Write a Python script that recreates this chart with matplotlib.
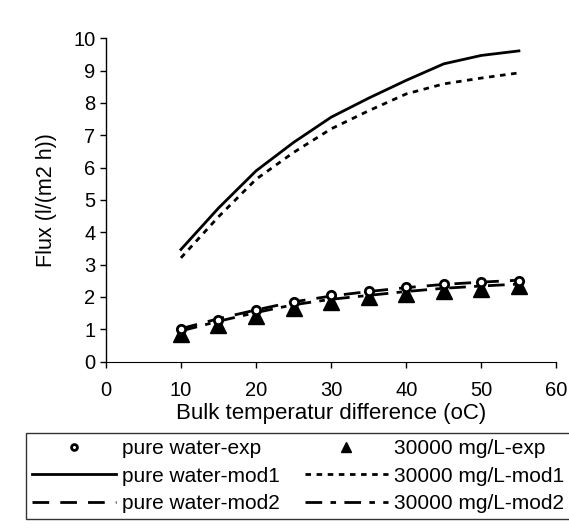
import matplotlib
matplotlib.use("Agg")
import matplotlib.pyplot as plt

plt.rcParams['font.family'] = ['Liberation Sans', 'DejaVu Sans']

temp_diff = [10, 15, 20, 25, 30, 35, 40, 45, 50, 55]

pure_exp = [1.00, 1.30, 1.60, 1.85, 2.05, 2.20, 2.30, 2.40, 2.45, 2.50]
salt_exp = [0.85, 1.12, 1.42, 1.67, 1.86, 2.00, 2.10, 2.20, 2.25, 2.35]

pure_mod1 = [3.47, 4.75, 5.90, 6.78, 7.56, 8.15, 8.70, 9.21, 9.47, 9.61]
salt_mod1 = [3.21, 4.48, 5.64, 6.47, 7.20, 7.76, 8.28, 8.59, 8.77, 8.93]

pure_mod2 = [1.02, 1.33, 1.60, 1.85, 2.03, 2.17, 2.29, 2.39, 2.46, 2.52]
salt_mod2 = [0.95, 1.25, 1.52, 1.76, 1.93, 2.05, 2.17, 2.27, 2.34, 2.40]

x_ticks = [0, 10, 20, 30, 40, 50, 60]
y_ticks = [0, 1, 2, 3, 4, 5, 6, 7, 8, 9, 10]

fig = plt.figure(figsize=(5.69, 5.28), dpi=100)
ax = fig.add_axes([0.186, 0.315, 0.792, 0.6125])

l_salt_exp, = ax.plot(temp_diff, salt_exp, linestyle='none', marker='^', markersize=11,
                      color='black', zorder=3)
l_pure_exp, = ax.plot(temp_diff, pure_exp, linestyle='none', marker='o', markersize=6,
                      markerfacecolor='white', markeredgecolor='black', markeredgewidth=2,
                      zorder=4)
l_pure_mod1, = ax.plot(temp_diff, pure_mod1, color='black', linewidth=2, linestyle='-')
l_salt_mod1, = ax.plot(temp_diff, salt_mod1, color='black', linewidth=2,
                       linestyle=(0, (2, 2)))
l_pure_mod2, = ax.plot(temp_diff, pure_mod2, color='black', linewidth=2,
                       linestyle=(0, (6, 4)))
l_salt_mod2, = ax.plot(temp_diff, salt_mod2, color='black', linewidth=2,
                       linestyle=(0, (6, 3, 2, 3)))

ax.set_xlim(0, 60)
ax.set_ylim(0, 10)
ax.set_xticks(x_ticks)
ax.set_yticks(y_ticks)
ax.tick_params(axis='both', labelsize=14.5, direction='out', length=4, width=1)
ax.tick_params(axis='x', pad=10)
ax.spines['top'].set_visible(False)
ax.spines['right'].set_visible(False)
ax.spines['left'].set_linewidth(1)
ax.spines['bottom'].set_linewidth(0.8)

ax.set_xlabel('Bulk temperatur difference (oC)', fontsize=16, labelpad=2)
ax.set_ylabel('Flux (l/(m2 h))', fontsize=15.5, labelpad=12)

handles = [l_pure_exp, l_pure_mod1, l_pure_mod2, l_salt_exp, l_salt_mod1, l_salt_mod2]
labels = ['pure water-exp', 'pure water-mod1', 'pure water-mod2',
          '30000 mg/L-exp', '30000 mg/L-mod1', '30000 mg/L-mod2']
leg = fig.legend(handles, labels, ncol=2, loc='upper left',
                 bbox_to_anchor=(26 / 569, 1 - 433 / 528),
                 fontsize=15, frameon=True, fancybox=False, edgecolor='black',
                 handlelength=4.0, handletextpad=0.3, columnspacing=1.2,
                 labelspacing=0.4, borderpad=0.3, borderaxespad=0, markerscale=0.7)
leg.get_frame().set_linewidth(1)

fig.savefig('out.png', dpi=100)
